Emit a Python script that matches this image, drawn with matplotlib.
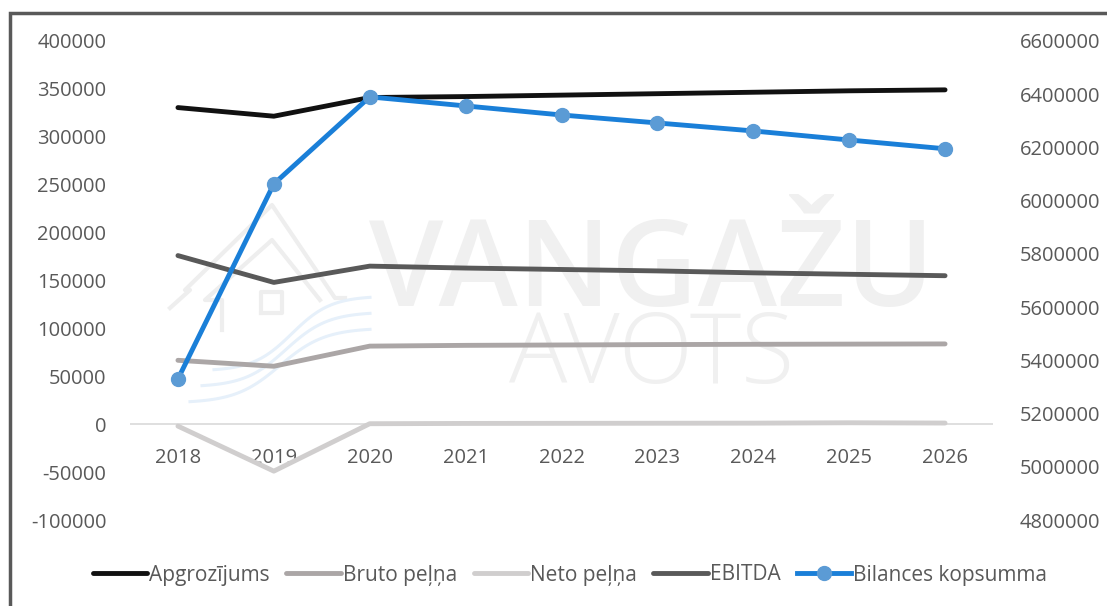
import numpy as np
import matplotlib.pyplot as plt
from matplotlib.patches import Rectangle

years = [2018, 2019, 2020, 2021, 2022, 2023, 2024, 2025, 2026]
apgrozijums = [330500, 321500, 341000, 342000, 343500, 345000, 346500, 348000, 349000]
bruto = [66700, 60500, 81500, 82300, 82700, 83100, 83400, 83600, 83800]
neto = [-2000, -49000, 500, 800, 900, 1000, 1100, 1500, 1200]
ebitda = [176000, 148000, 165000, 163000, 161500, 160000, 158000, 156500, 155000]
bilance = [5330000, 6063000, 6390000, 6356000, 6322000, 6292000, 6262000, 6228000, 6195000]

left_ticks = list(range(-100000, 400001, 50000))
right_ticks = list(range(4800000, 6600001, 200000))

plt.rcParams['font.family'] = ['Open Sans', 'DejaVu Sans']
txt = '#595959'
W, H = 1107, 606

fig = plt.figure(figsize=(W / 100, H / 100), dpi=100)
fig.patches.append(Rectangle((10 / W, -0.1), 1.2, 1 - 13 / H + 0.1, transform=fig.transFigure,
                             fill=False, edgecolor='#595959', linewidth=2.5, zorder=0))


def px(xs, ys):
    # pixel positions -> figure fraction, only for the faint logo watermark
    return [v / W for v in xs], [1 - v / H for v in ys]


# faint house logo behind the chart
wm = '#eeeeee'
for xs, ys in [([170, 190, 185, 272, 335, 345], [308, 290, 290, 205, 298, 298]),
               ([222, 222, 205, 272, 320], [330, 300, 300, 240, 300])]:
    fx, fy = px(xs, ys)
    fig.add_artist(plt.Line2D(fx, fy, color=wm, lw=3, transform=fig.transFigure, zorder=0))
fx, fy = px([261, 261, 282, 282, 261], [313, 292, 292, 313, 313])
fig.add_artist(plt.Line2D(fx, fy, color=wm, lw=3, transform=fig.transFigure, zorder=0))
t = np.linspace(0, 1, 60)
for k in range(3):
    wx = 190 + k * 12 + (370 - 190 - k * 12) * t
    wy = 403 - k * 16 - 75 * (0.5 + 0.5 * np.tanh((t - 0.5) * 4))
    fx, fy = px(wx, wy)
    fig.add_artist(plt.Line2D(fx, fy, color='#e6f0fa', lw=2.2, transform=fig.transFigure, zorder=0))

ax = fig.add_axes([130 / W, 1 - 520 / H, 863 / W, 479 / H])
ax.patch.set_alpha(0)
ax2 = ax.twinx()

x = list(range(len(years)))
ax.set_xlim(-0.5, len(years) - 0.5)
ax.set_ylim(-100000, 400000)
ax2.set_ylim(4800000, 6600000)

# watermark text
ax.text(0.604, 0.512, 'VANGAŽU', transform=ax.transAxes, ha='center', va='center',
        fontsize=86, fontweight='semibold', color='#f0f0f0', zorder=0, family='Open Sans')
ax.text(0.604, 0.338, 'AVOTS', transform=ax.transAxes, ha='center', va='center',
        fontsize=70, fontweight='light', color='#f0f0f0', zorder=0, family='Open Sans')

l1, = ax.plot(x, apgrozijums, color='#111111', lw=3.5, solid_capstyle='round', label='Apgrozījums')
l2, = ax.plot(x, bruto, color='#aba6a6', lw=3.5, solid_capstyle='round', label='Bruto peļņa')
l3, = ax.plot(x, neto, color='#d0cece', lw=3.5, solid_capstyle='round', label='Neto peļņa')
l4, = ax.plot(x, ebitda, color='#595959', lw=3.5, solid_capstyle='round', label='EBITDA')
l5, = ax2.plot(x, bilance, color='#1a7fd8', lw=3.5, marker='o', markersize=10,
               markerfacecolor='#5b9bd5', markeredgecolor='#5b9bd5', label='Bilances kopsumma')

ax.axhline(0, color='#d9d9d9', lw=1.2, zorder=1)

for a in (ax, ax2):
    for s in a.spines.values():
        s.set_visible(False)
    a.tick_params(length=0, labelsize=14.5, labelcolor=txt)

ax.set_xticks(x)
ax.set_xticklabels([str(y) for y in years])
ax.set_yticks(left_ticks)
ax.set_yticklabels([str(v) for v in left_ticks])
ax2.set_yticks(right_ticks)
ax2.set_yticklabels([str(v) for v in right_ticks])
ax.tick_params(axis='y', pad=17)
ax2.tick_params(axis='y', pad=19)
# category labels sit under the zero line
ax.spines['bottom'].set_position(('data', 0))
ax.tick_params(axis='x', pad=17)

fig.legend(handles=[l1, l2, l3, l4, l5], loc='center', bbox_to_anchor=(0.515, 1 - 575 / H),
           ncol=5, frameon=False, fontsize=15, labelcolor=txt, handlelength=2.6,
           handletextpad=0.1, columnspacing=0.8)

fig.savefig('out.png', dpi=100)
